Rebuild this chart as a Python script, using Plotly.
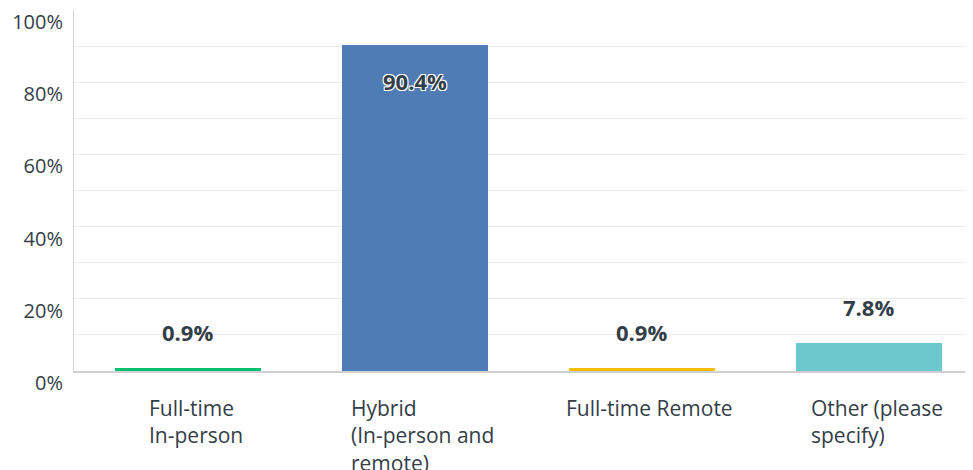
import plotly.graph_objects as go

# Survey answer choices and response share (%)
categories = ["Full-time In-person", "Hybrid (In-person and remote)", "Full-time Remote", "Other (please specify)"]
axis_labels = ["Full-time<br>In-person", "Hybrid<br>(In-person and<br>remote)", "Full-time Remote", "Other (please<br>specify)"]
values = [0.9, 90.4, 0.9, 7.8]
colors = ["#00bf6f", "#507cb6", "#f9be00", "#6bc8cd"]
y_ticks = [0, 20, 40, 60, 80, 100]

FONT = "Open Sans"
TEXT = "#333e48"

fig = go.Figure()
fig.add_trace(go.Bar(x=list(range(len(categories))), y=values, marker=dict(color=colors, line=dict(width=0)),
                     width=0.643, hoverinfo="skip", showlegend=False))

# Value labels above (or inside) each bar
for i, v in enumerate(values):
    inside = v > 50
    fig.add_annotation(x=i, y=v, xref="x", yref="y", text=f"<b>{v}%</b>", showarrow=False,
                       yanchor="middle", yshift=-36 if inside else 36,
                       font=dict(family=FONT, size=22, color=TEXT,
                                 shadow="1px 1px 0 white, -1px -1px 0 white, 1px -1px 0 white, -1px 1px 0 white" if inside else "none"))

# Category labels, left aligned under each bar
for i, lab in enumerate(axis_labels):
    fig.add_annotation(x=i, y=0, xref="x", yref="paper", text=lab, showarrow=False, align="left",
                       xanchor="center", yanchor="top", xshift=8, yshift=-21,
                       font=dict(family=FONT, size=21, color=TEXT))

fig.update_xaxes(range=[-0.5, 3.46], showticklabels=False, showgrid=False, zeroline=False,
                 showline=True, linecolor="#d0d0d0", linewidth=2, automargin=False)
fig.update_yaxes(range=[0, 100], tickvals=y_ticks, ticktext=[f"{t}%" for t in y_ticks],
                 showgrid=True, gridcolor="#ebebeb", gridwidth=1, zeroline=False,
                 minor=dict(dtick=10, showgrid=True, gridcolor="#ebebeb", gridwidth=1),
                 showline=True, linecolor="#d6d6d6", linewidth=1, automargin=False,
                 ticklabelstandoff=6, ticklabelshift=12, ticklabeloverflow="allow",
                 tickfont=dict(family=FONT, size=20, color=TEXT))
# the page adds an 8px body margin, so the margins here are trimmed by 8
fig.update_layout(width=973, height=470, margin=dict(l=66, r=8, t=2, b=107),
                  plot_bgcolor="white", paper_bgcolor="white", bargap=0)
fig.write_html("out.html")
